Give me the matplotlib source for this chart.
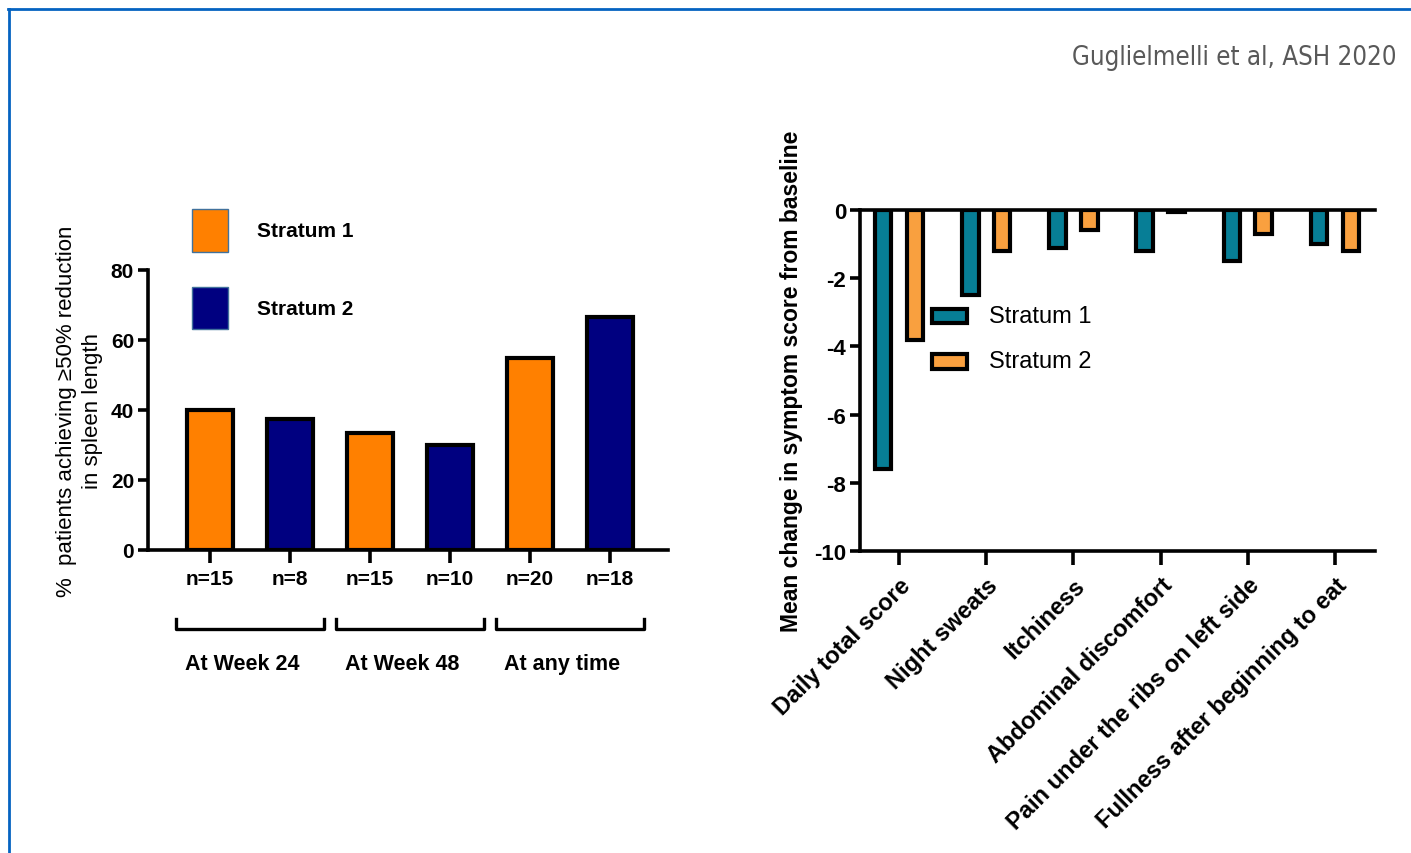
import matplotlib.pyplot as plt
from matplotlib.patches import Rectangle
from matplotlib.lines import Line2D
import numpy as np

plt.rcParams['font.family'] = ['Liberation Sans', 'DejaVu Sans']
plt.rcParams['axes.unicode_minus'] = False

# spleen response, % of patients per stratum and timepoint
n_labels = ['n=15', 'n=8', 'n=15', 'n=10', 'n=20', 'n=18']
response_pct = [40.0, 37.5, 33.3, 30.0, 55.0, 66.7]
response_strata = ['Stratum 1', 'Stratum 2', 'Stratum 1', 'Stratum 2', 'Stratum 1', 'Stratum 2']
timepoints = ['At Week 24', 'At Week 48', 'At any time']

# symptom score change from baseline
symptoms = ['Daily total score', 'Night sweats', 'Itchiness', 'Abdominal discomfort',
            'Pain under the ribs on left side', 'Fullness after beginning to eat']
change_s1 = [-7.6, -2.5, -1.1, -1.2, -1.5, -1.0]
change_s2 = [-3.8, -1.2, -0.6, -0.05, -0.7, -1.2]

W, H = 1411, 854
fig = plt.figure(figsize=(W / 100, H / 100), dpi=100)

def px(x0, y0, x1, y1):
    # figure box from pixel corners (top-left origin)
    return [x0 / W, 1 - y1 / H, (x1 - x0) / W, (y1 - y0) / H]

# slide frame
blue = '#0563C1'
fig.add_artist(Line2D([8 / W, 1], [1 - 10 / H, 1 - 10 / H], color=blue, lw=2, transform=fig.transFigure))
fig.add_artist(Line2D([9 / W, 9 / W], [0, 1 - 10 / H], color=blue, lw=2, transform=fig.transFigure))

fig.text(1396 / W, 1 - 58 / H, 'Guglielmelli et al, ASH 2020', ha='right', va='center',
         fontsize=18.5, color='#595959', family='DejaVu Sans', fontstretch='condensed')

# ---- left panel: spleen response ----
orange = '#FF8000'
navy = '#000080'
fill = {'Stratum 1': orange, 'Stratum 2': navy}

ax1 = fig.add_axes(px(148, 271, 668, 551))
x1 = np.arange(len(response_pct))
ax1.bar(x1, response_pct, width=0.58, color=[fill[s] for s in response_strata],
        edgecolor='black', linewidth=3)
ax1.set_xlim(-0.775, 5.725)
ax1.set_ylim(0, 80)
ax1.set_yticks([0, 20, 40, 60, 80])
ax1.set_xticks(x1)
ax1.set_xticklabels(n_labels)
for s in ['top', 'right']:
    ax1.spines[s].set_visible(False)
for s in ['left', 'bottom']:
    ax1.spines[s].set_linewidth(2.6)
ax1.tick_params(axis='y', length=7, width=2.6, labelsize=15, pad=3)
ax1.tick_params(axis='x', length=9, width=2.6, labelsize=15, pad=5)
for lab in ax1.get_xticklabels() + ax1.get_yticklabels():
    lab.set_fontweight('bold')
ax1.set_ylabel('%  patients achieving \u226550% reduction\nin spleen length', fontsize=16,
               labelpad=6, linespacing=1.3)

# group brackets below n labels
trans = ax1.get_xaxis_transform()
for i, label in enumerate(timepoints):
    c = 2 * i + 0.5
    ax1.plot([c - 0.93, c - 0.93, c + 0.93, c + 0.93], [-0.246, -0.282, -0.282, -0.246],
             color='black', lw=2.4, transform=trans, clip_on=False)
    ax1.text(c - 0.1, -0.404, label, transform=trans, ha='center', va='center',
             fontsize=15.5, fontweight='bold')

# legend squares
for y0, y1, name in [(1.064, 1.218, 'Stratum 1'), (0.789, 0.939, 'Stratum 2')]:
    ax1.add_patch(Rectangle((0.0846, y0), 0.069, y1 - y0, transform=ax1.transAxes,
                            facecolor=fill[name], edgecolor='#41719C', lw=1, clip_on=False))
    ax1.text(0.2096, (y0 + y1) / 2, name, transform=ax1.transAxes, va='center',
             fontsize=15, fontweight='bold')

# ---- right panel: symptom change ----
teal = '#077E96'
light_orange = '#F9A03F'

ax2 = fig.add_axes(px(860, 211, 1375, 552))
x2 = np.arange(len(symptoms))
ax2.bar(x2 - 0.183, change_s1, width=0.19, color=teal, edgecolor='black', linewidth=3)
ax2.bar(x2 + 0.183, change_s2, width=0.19, color=light_orange, edgecolor='black', linewidth=3)
ax2.set_xlim(-0.447, 5.459)
ax2.set_ylim(-10, 0)
ax2.set_yticks(np.arange(-10, 1, 2))
ax2.set_xticks(x2)
ax2.set_xticklabels(symptoms, rotation=45, ha='right', rotation_mode='anchor')
ax2.spines['right'].set_visible(False)
for s in ['left', 'bottom', 'top']:
    ax2.spines[s].set_linewidth(2.6)
ax2.tick_params(axis='y', length=7, width=2.6, labelsize=16, pad=3)
ax2.tick_params(axis='x', length=10, width=2.6, labelsize=17, pad=6)
for lab in ax2.get_xticklabels() + ax2.get_yticklabels():
    lab.set_fontweight('bold')
ax2.set_ylabel('Mean change in symptom score from baseline', fontsize=16.5,
               fontweight='bold', labelpad=8)

for y0, y1, col, name in [(0.669, 0.710, teal, 'Stratum 1'), (0.534, 0.578, light_orange, 'Stratum 2')]:
    ax2.add_patch(Rectangle((0.14, y0), 0.068, y1 - y0, transform=ax2.transAxes,
                            facecolor=col, edgecolor='black', lw=3, clip_on=False))
    ax2.text(0.25, (y0 + y1) / 2, name, transform=ax2.transAxes, va='center', fontsize=17)

fig.savefig('out.png', dpi=100)
